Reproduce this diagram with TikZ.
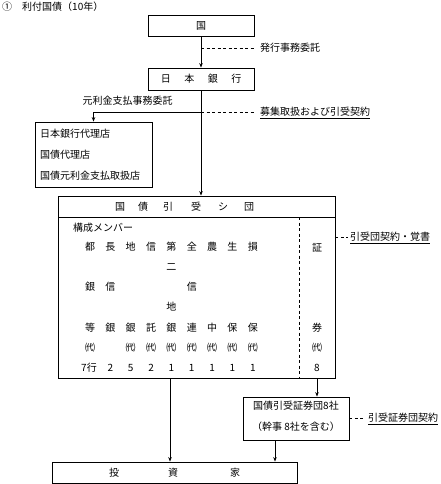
\documentclass[tikz,border=0pt]{standalone}
\usepackage{fontspec}
\setmainfont{Noto Sans CJK JP}
\usetikzlibrary{arrows.meta}
\begin{document}
\begin{tikzpicture}[x=1pt,y=-1pt,
 every node/.style={font=\fontsize{10}{12}\selectfont, inner sep=0pt},
 box/.style={draw, line width=0.8pt, rectangle},
 arr/.style={line width=0.8pt,-{Stealth[length=4.5pt,width=3.5pt]}},
 ln/.style={line width=0.8pt},
 dsh/.style={line width=0.7pt, dash pattern=on 3pt off 2.5pt},
 lbl/.style={anchor=west},
 ulbl/.style={anchor=base west}]
\useasboundingbox (0,0) rectangle (441,484);
% title
\node[anchor=west] (title) at (2,7) {①\hspace{10pt}利付国債（10年）};
% top boxes
\node[box, minimum width=106pt, minimum height=21pt] (kuni) at (201,25.5) {国};
\node[box, minimum width=106pt, minimum height=22pt] (nb) at (201,79) {日\hspace{13.5pt}本\hspace{13.5pt}銀\hspace{13.5pt}行};
\draw[arr] (kuni) -- (nb);
\coordinate (d1) at (201,48);
\node[lbl] (hakko) at (260,48) {発行事務委託};
\draw[dsh, shorten >=5pt] (d1) -- (hakko.west);
% agents
\node[box, minimum width=117pt, minimum height=65pt] (ag) at (93.5,154.5) {};
\node[anchor=west] (ag1) at (40,134) {日本銀行代理店};
\node[anchor=west] (ag2) at (40,155) {国債代理店};
\node[anchor=west] (ag3) at (40,176) {国債元利金支払取扱店};
\node (gan) at (127.5,101) {元利金支払事務委託};
\coordinate (j) at (201,112);
\draw[arr] (j) -| (ag.north);
\node[ulbl] (bosyu) at (260,115.8) {\underline{募集取扱および引受契約}};
\draw[dsh, shorten >=5pt] (j) -- (bosyu.base west |- j);
% big box
\node[box, minimum width=277pt, minimum height=182pt] (big) at (196.5,287) {};
\draw[arr] (nb.south) -- (nb.south |- big.north);
\draw[ln] (58,217) -- (335,217);
\draw[dsh] (299,217) -- (299,378);
\foreach \c [count=\i] in {国,債,引,受,シ,団}
  \pgfmathsetmacro{\xx}{{120,143,168,196,223,249}[\i-1]}
  \node (h\i) at (\xx,207) {\c};
\node[anchor=west] (kosei) at (73,228) {構成メンバー};
\foreach \c [count=\i] in {都,長,地,信,第,全,農,生,損}
  \node (ra\i) at ({90+20.35*(\i-1)},247) {\c};
\node (rb5) at ({90+20.35*4},267) {二};
\node (rc1) at (90,287) {銀};
\node (rc2) at ({90+20.35},287) {信};
\node (rc6) at ({90+20.35*5},287) {信};
\node (rd5) at ({90+20.35*4},307) {地};
\foreach \c [count=\i] in {等,銀,銀,託,銀,連,中,保,保}
  \node (re\i) at ({90+20.35*(\i-1)},328) {\c};
\foreach \i in {1,3,4,5,6,7,8,9}
  \node (rf\i) at ({90+20.35*(\i-1)},348) {㈹};
\node (rg1) at (89,368) {7行};
\foreach \n [count=\i from 2] in {2,5,2,1,1,1,1,1}
  \node (rg\i) at ({90+20.35*(\i-1)},368) {\n};
\node (s1) at (317,248) {証};
\node (s2) at (317,328) {券};
\node (s3) at (317,348) {㈹};
\node (s4) at (317,368) {8};
\node[ulbl] (hk) at (350,240.8) {\underline{引受団契約・覚書}};
\draw[dsh] (big.east |- 0,237) -- ([xshift=-2pt]hk.base west |- 0,237);
% syndicate box
\node[box, minimum width=106pt, minimum height=43pt] (syn) at (296,418.5) {};
\node (syn1) at (296,406) {国債引受証券団8社};
\node (syn2) at (296,427) {（幹事 8社を含む）};
\node[ulbl] (sk) at (368,421.8) {\underline{引受証券団契約}};
\draw[dsh] (syn.east) -- ([xshift=-4pt]sk.base west |- syn.east);
% investors
\node[box, minimum width=245pt, minimum height=21pt] (inv) at (174.5,472.5) {};
\node (i1) at (114,473) {投};
\node (i2) at (173,473) {資};
\node (i3) at (235,473) {家};
\coordinate (b1) at (170,378);
\coordinate (b2) at (317,378);
\coordinate (b3) at (275,440);
\draw[arr] (b1) -- (b1 |- inv.north);
\draw[arr] (b2) -- (b2 |- syn.north);
\draw[arr] (b3) -- (b3 |- inv.north);
\end{tikzpicture}
\end{document}
